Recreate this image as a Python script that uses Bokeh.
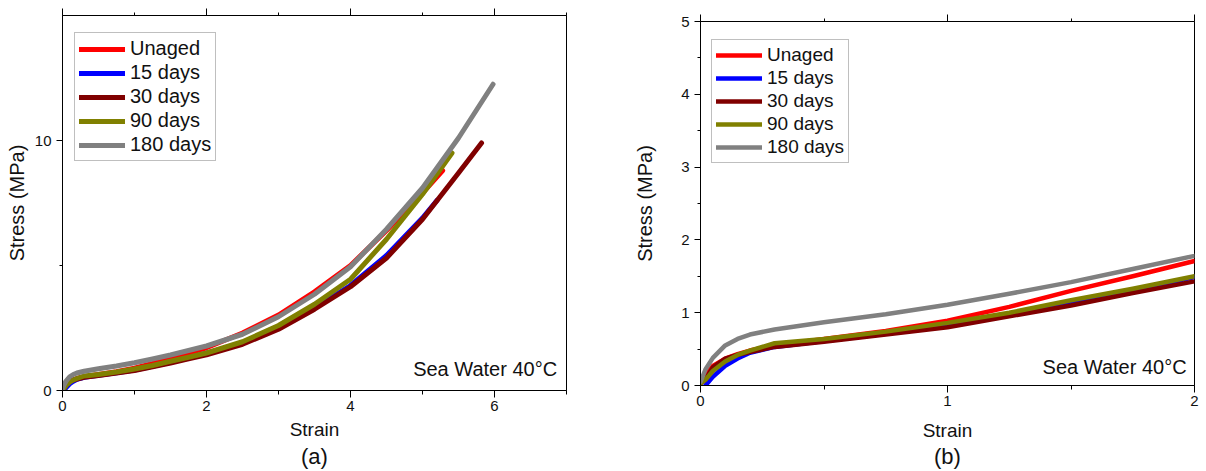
from bokeh.plotting import figure
from bokeh.models import FixedTicker, LinearAxis, Legend, LegendItem, Label, Range1d
from bokeh.layouts import row, column
from bokeh.embed import file_html
from bokeh.resources import INLINE

# ---------------- data ----------------
series_names = ["Unaged", "15 days", "30 days", "90 days", "180 days"]
series_colors = ["#FF0000", "#0000FF", "#800000", "#808000", "#808080"]

unaged_strain = [0.0, 0.02, 0.05, 0.1, 0.15, 0.2, 0.3, 0.5, 0.75, 1.0, 1.25, 1.5, 1.75, 2.0, 2.5, 3.0, 3.5, 4.0, 4.5, 5.0, 5.28]
unaged_stress = [0.05, 0.15, 0.27, 0.37, 0.43, 0.48, 0.55, 0.64, 0.75, 0.89, 1.08, 1.30, 1.50, 1.71, 2.30, 3.02, 3.95, 5.00, 6.40, 7.90, 8.80]

d15_strain = [0.02, 0.05, 0.1, 0.15, 0.2, 0.3, 0.5, 0.75, 1.0, 1.25, 1.5, 1.75, 2.0, 2.5, 3.0, 3.5, 4.0, 4.5, 5.0, 5.2]
d15_stress = [0.0, 0.12, 0.27, 0.37, 0.45, 0.53, 0.61, 0.71, 0.82, 0.97, 1.13, 1.30, 1.49, 1.90, 2.50, 3.30, 4.20, 5.40, 6.90, 7.60]

d30_strain = [0.0, 0.02, 0.05, 0.1, 0.15, 0.2, 0.3, 0.5, 0.75, 1.0, 1.25, 1.5, 1.75, 2.0, 2.5, 3.0, 3.5, 4.0, 4.5, 5.0, 5.5, 5.82]
d30_stress = [0.03, 0.08, 0.25, 0.37, 0.42, 0.46, 0.53, 0.60, 0.70, 0.80, 0.95, 1.10, 1.27, 1.43, 1.85, 2.45, 3.25, 4.15, 5.30, 6.85, 8.70, 9.90]

d90_strain = [0.0, 0.02, 0.05, 0.1, 0.15, 0.2, 0.3, 0.5, 0.75, 1.0, 1.25, 1.5, 1.75, 2.0, 2.5, 3.0, 3.5, 4.0, 4.5, 5.0, 5.41]
d90_stress = [0.03, 0.08, 0.20, 0.33, 0.42, 0.48, 0.58, 0.64, 0.74, 0.86, 1.00, 1.17, 1.33, 1.50, 1.95, 2.60, 3.45, 4.45, 6.05, 7.85, 9.50]

d180_strain = [0.0, 0.02, 0.05, 0.1, 0.15, 0.2, 0.3, 0.5, 0.75, 1.0, 1.25, 1.5, 1.75, 2.0, 2.5, 3.0, 3.5, 4.0, 4.5, 5.0, 5.5, 5.98]
d180_stress = [0.05, 0.22, 0.38, 0.55, 0.64, 0.70, 0.77, 0.87, 0.98, 1.11, 1.26, 1.42, 1.60, 1.78, 2.25, 2.95, 3.85, 4.95, 6.45, 8.10, 10.10, 12.25]

all_strain = [unaged_strain, d15_strain, d30_strain, d90_strain, d180_strain]
all_stress = [unaged_stress, d15_stress, d30_stress, d90_stress, d180_stress]

x_label = "Strain"
y_label = "Stress (MPa)"
note_text = "Sea Water 40°C"

FONT = "Liberation Sans"
TXT = "#111111"


def style_axis(ax, major, minor, labels=True, major_len=7, minor_len=4):
    ax.ticker = FixedTicker(ticks=major, minor_ticks=minor)
    ax.axis_line_color = "black"
    ax.axis_line_width = 1
    ax.major_tick_in = 0
    ax.minor_tick_in = 0
    ax.major_tick_out = major_len
    ax.minor_tick_out = minor_len
    ax.major_tick_line_color = "black"
    ax.minor_tick_line_color = "black"
    ax.major_label_text_font = FONT
    ax.major_label_text_font_size = "15px"
    ax.major_label_text_color = TXT
    ax.axis_label_text_font = FONT
    ax.axis_label_text_font_style = "normal"
    ax.axis_label_text_color = TXT
    if not labels:
        ax.major_label_overrides = {t: "" for t in major}
        ax.major_label_text_font_size = "0px"
        ax.major_label_standoff = 0


def make_panel(xr, yr, xmaj, xmin, ymaj, ymin, w, h, borders, lw, legend_loc,
               legend_font, note_xy, tag, strain_standoff, cap_standoff, ylabel_standoff):
    bl, br, bt, bb = borders
    p = figure(width=w, height=h, x_range=Range1d(*xr), y_range=Range1d(*yr),
               output_backend="svg", toolbar_location=None,
               min_border_left=bl, min_border_right=br, min_border_top=bt, min_border_bottom=bb,
               background_fill_color="white", border_fill_color="white")
    p.grid.visible = False
    p.outline_line_color = "black"
    p.outline_line_width = 1
    p.outline_line_alpha = 1

    style_axis(p.xaxis[0], xmaj, xmin)
    p.xaxis[0].axis_label = x_label
    p.xaxis[0].axis_label_text_font_size = "19px"
    p.xaxis[0].axis_label_standoff = strain_standoff
    p.xaxis[0].major_label_standoff = 3

    style_axis(p.yaxis[0], ymaj, ymin, major_len=6, minor_len=3)
    p.yaxis[0].axis_label = y_label
    p.yaxis[0].axis_label_text_font_size = "20px"
    p.yaxis[0].axis_label_standoff = ylabel_standoff
    p.yaxis[0].major_label_standoff = 5

    top = LinearAxis()
    style_axis(top, xmaj, xmin, labels=False, major_len=7, minor_len=3)
    p.add_layout(top, "above")

    # caption "(a)" / "(b)" under the x axis title, as a label-only axis
    cap = LinearAxis(axis_label=tag)
    cap.ticker = FixedTicker(ticks=[], minor_ticks=[])
    cap.axis_line_alpha = 0
    cap.major_tick_out = 0
    cap.minor_tick_out = 0
    cap.major_label_text_font_size = "0px"
    cap.major_label_standoff = 0
    cap.axis_label_standoff = cap_standoff
    cap.axis_label_text_font = FONT
    cap.axis_label_text_font_size = "22px"
    cap.axis_label_text_font_style = "normal"
    cap.axis_label_text_color = TXT
    p.add_layout(cap, "below")

    items = []
    for name, color, xs, ys in zip(series_names, series_colors, all_strain, all_stress):
        r = p.line(xs, ys, line_color=color, line_width=lw, line_cap="round", line_join="round")
        items.append(LegendItem(label=name, renderers=[r]))

    leg = Legend(items=items, location=legend_loc, border_line_color="#7f7f7f", border_line_width=1,
                 padding=4, spacing=1, glyph_width=46, glyph_height=20, label_height=20,
                 label_standoff=5, label_text_font=FONT, label_text_font_size=legend_font,
                 label_text_color=TXT, margin=0, background_fill_alpha=1)
    p.add_layout(leg, "center")

    p.add_layout(Label(x=note_xy[0], y=note_xy[1], text=note_text, text_align="right",
                       text_baseline="middle", text_font=FONT, text_font_size="20px",
                       text_color=TXT))
    return p


# left panel: frame 504 x 375 (x 62..566, y 15..390)
p1 = make_panel((0, 7), (0, 15), [0, 2, 4, 6], [1, 3, 5, 7], [0, 10], [5],
                586, 471, (62, 20, 15, 81), 5, (12, 229), "20px",
                (6.87, 0.88), "(a)", 5, 1, 4)
# right panel: frame 494 x 365 (x 700..1194, y 21..386)
p2 = make_panel((0, 2), (0, 5), [0, 1, 2], [0.5, 1.5], [0, 1, 2, 3, 4, 5],
                [0.5, 1.5, 2.5, 3.5, 4.5], 620, 471, (114, 12, 21, 85), 4.5, (11, 222), "19px",
                (1.968, 0.26), "(b)", 11, 0, 22)

layout = row(column(p1), column(p2))
open("out.html", "w").write(file_html(layout, INLINE))
